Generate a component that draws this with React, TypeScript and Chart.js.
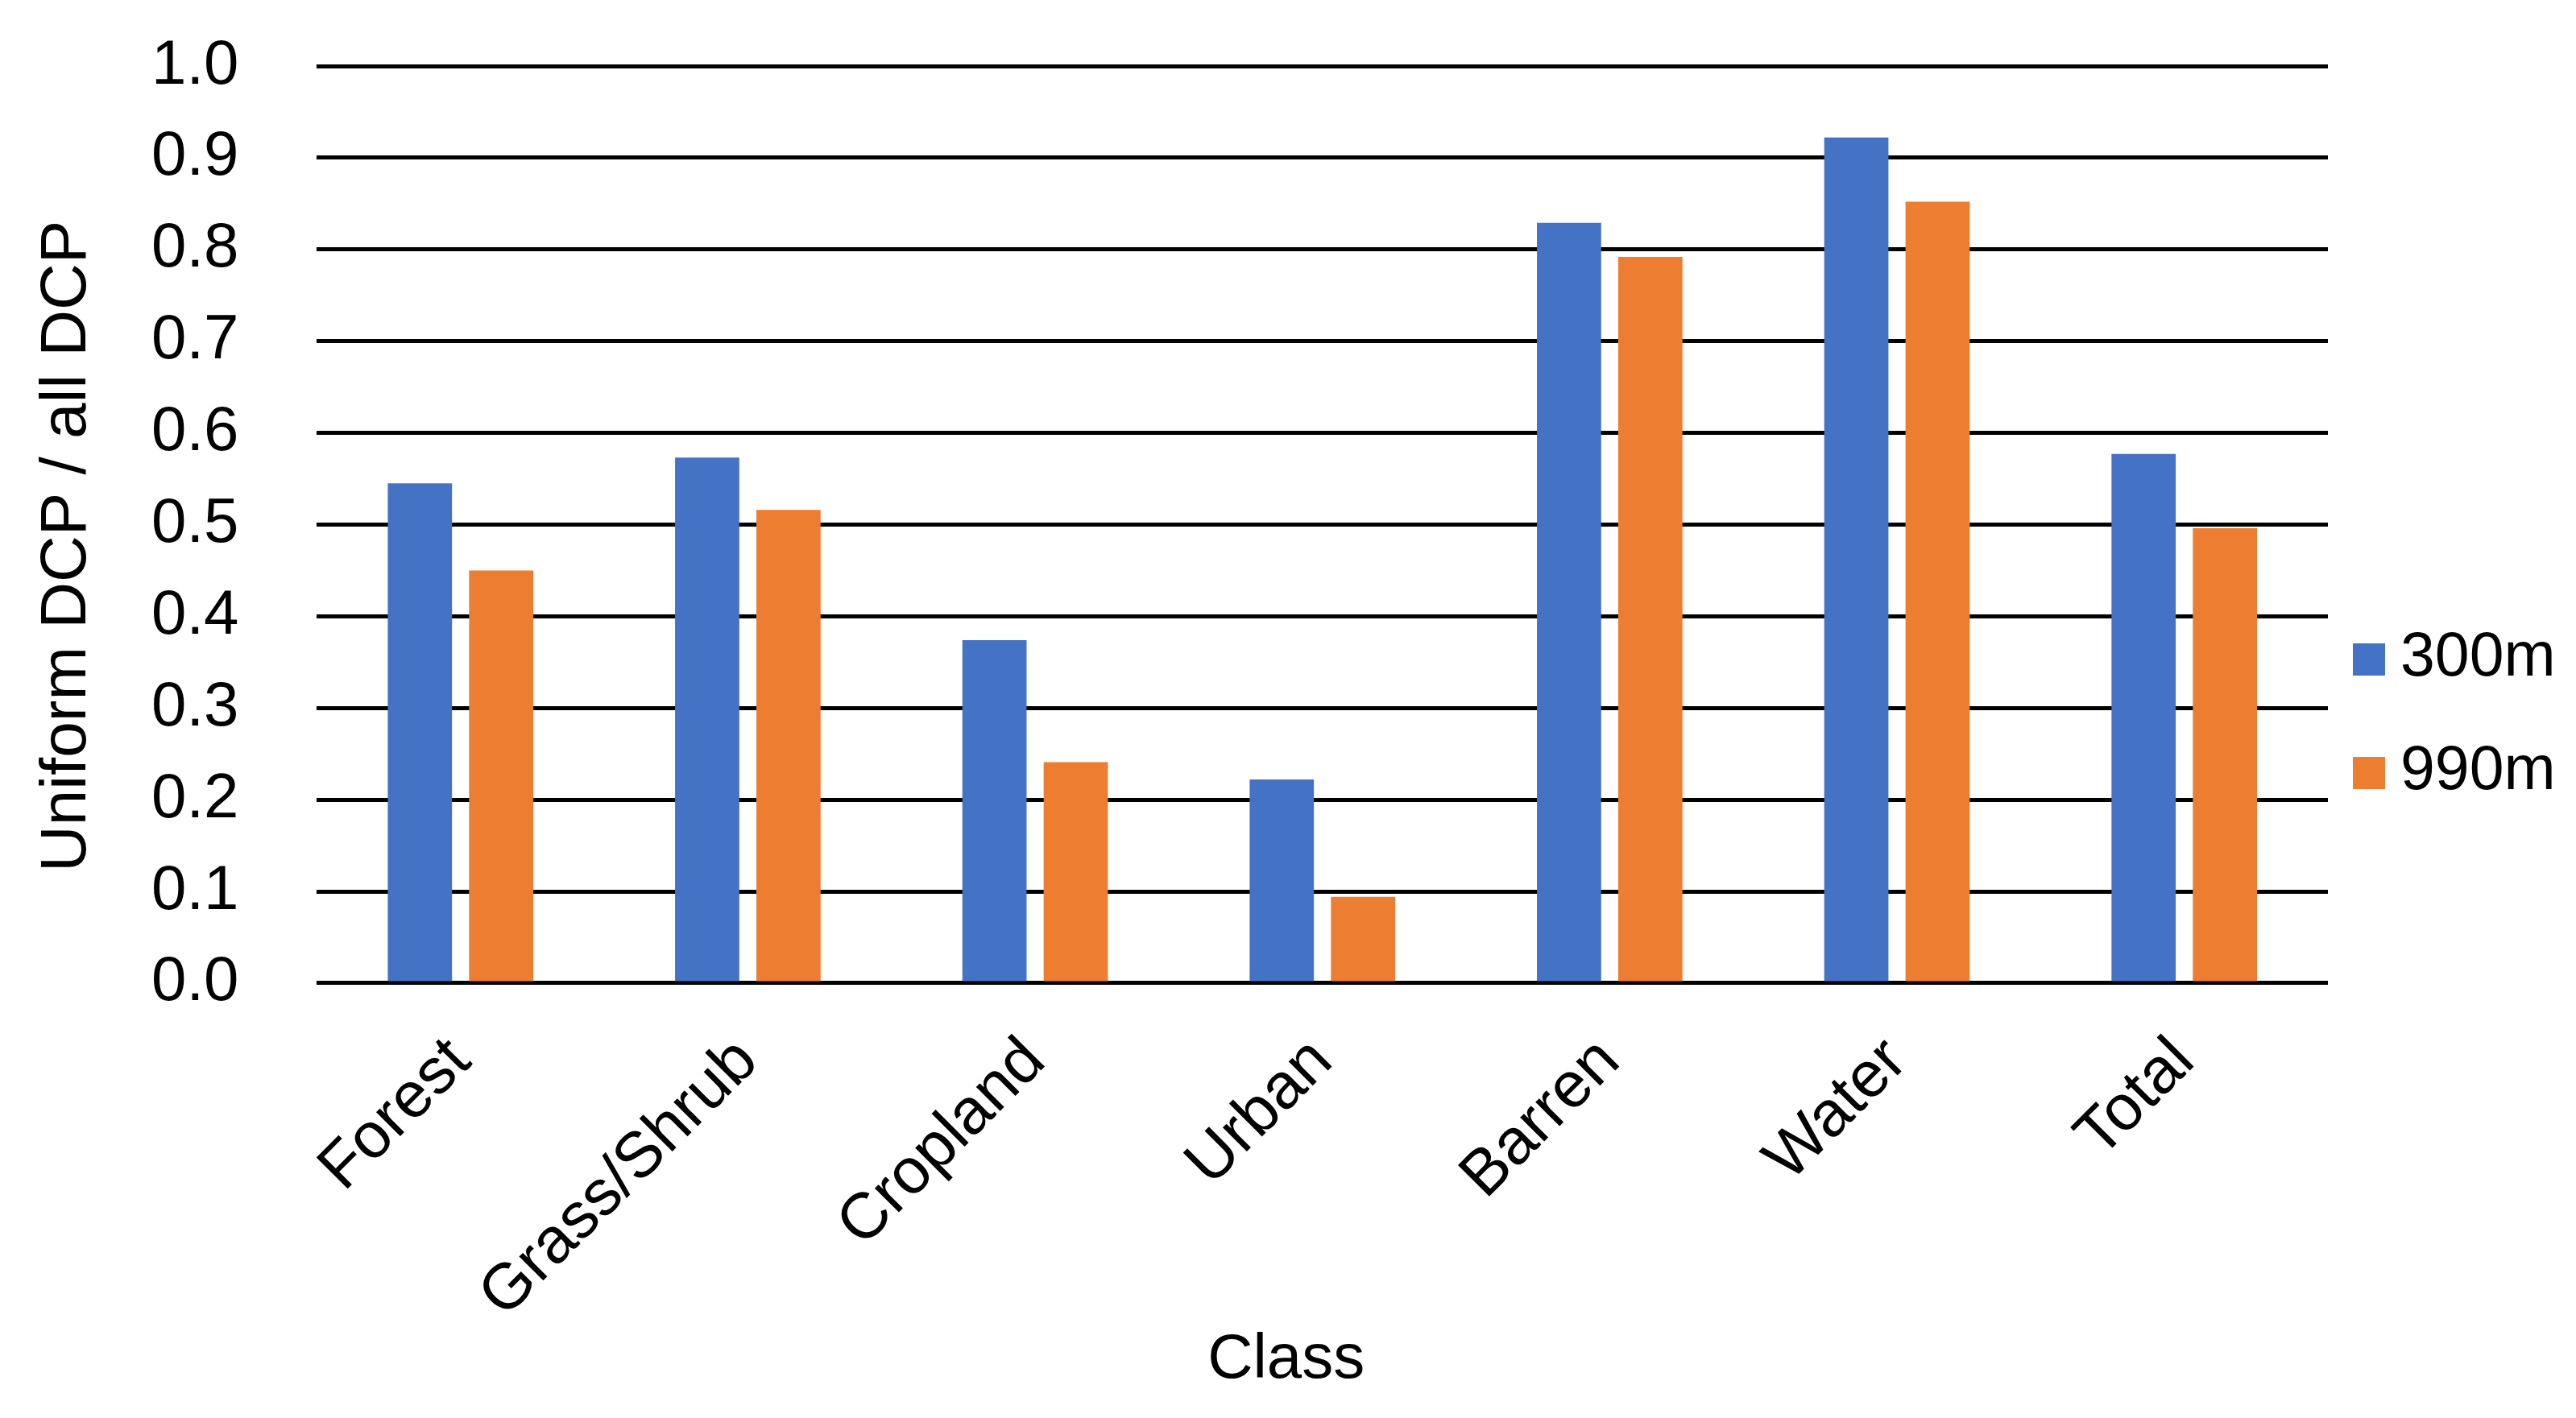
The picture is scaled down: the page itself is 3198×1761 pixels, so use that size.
import React, { useEffect, useRef } from "react";
import { Chart, registerables } from "chart.js";

Chart.register(...registerables);

// ---- Data ----
const categories = ["Forest", "Grass/Shrub", "Cropland", "Urban", "Barren", "Water", "Total"];
const series300m = [0.545, 0.573, 0.374, 0.222, 0.829, 0.922, 0.577];
const series990m = [0.45, 0.516, 0.241, 0.094, 0.792, 0.852, 0.496];
const seriesLabels = ["300m", "990m"];
const seriesColors = ["#4472C4", "#ED7D31"];
const yMin = 0;
const yMax = 1;
const yStep = 0.1;
const yAxisTitle = "Uniform DCP / all DCP";
const xAxisTitle = "Class";

const FONT = "'Liberation Sans', Arial, Helvetica, sans-serif";

const customText = {
  id: "customText",
  afterDraw(chart: any) {
    const { ctx, chartArea } = chart;
    const midY = (chartArea.top + chartArea.bottom) / 2;
    const midX = (chartArea.left + chartArea.right) / 2;
    ctx.save();
    ctx.fillStyle = "#000";
    ctx.textAlign = "center";
    ctx.textBaseline = "middle";
    // y-axis title
    ctx.save();
    ctx.font = `80px ${FONT}`;
    ctx.translate(84, midY + 27);
    ctx.rotate(-Math.PI / 2);
    ctx.fillText(yAxisTitle, 0, 0);
    ctx.restore();
    // x-axis title
    ctx.font = `78px ${FONT}`;
    ctx.fillText(xAxisTitle, midX - 45, chartArea.bottom + 469);
    // legend
    chart.data.datasets.forEach((ds: any, i: number) => {
      const cy = 819 + i * 141;
      ctx.fillStyle = ds.backgroundColor;
      ctx.fillRect(chartArea.right + 31, cy - 20, 40, 40);
      ctx.fillStyle = "#000";
      ctx.textAlign = "left";
      ctx.font = `77px ${FONT}`;
      ctx.fillText(ds.label, chartArea.right + 90, cy - 1);
    });
    ctx.restore();
  },
};

export default function App() {
  const canvasRef = useRef<HTMLCanvasElement | null>(null);

  useEffect(() => {
    if (!canvasRef.current) return;
    const chart = new Chart(canvasRef.current, {
      type: "bar",
      data: {
        labels: categories,
        datasets: [
          {
            label: seriesLabels[0],
            data: series300m,
            backgroundColor: seriesColors[0],
            categoryPercentage: 0.566,
            barPercentage: 0.79,
          },
          {
            label: seriesLabels[1],
            data: series990m,
            backgroundColor: seriesColors[1],
            categoryPercentage: 0.566,
            barPercentage: 0.79,
          },
        ],
      },
      options: {
        responsive: false,
        animation: false,
        devicePixelRatio: 1,
        layout: { padding: { left: 91, right: 308, top: 82, bottom: 62 } },
        plugins: {
          legend: { display: false },
          tooltip: { enabled: false },
          title: { display: false },
        },
        scales: {
          x: {
            grid: { display: false },
            border: { display: false },
            ticks: {
              color: "#000",
              font: { family: FONT, size: 80, lineHeight: 1.0 },
              minRotation: 45,
              maxRotation: 45,
              padding: 48,
              autoSkip: false,
            },
          },
          y: {
            min: yMin,
            max: yMax,
            grid: { color: "#000", lineWidth: 5, drawTicks: false },
            border: { display: false },
            ticks: {
              stepSize: yStep,
              padding: 97,
              color: "#000",
              font: { family: FONT, size: 78 },
              callback: (v: any) => Number(v).toFixed(1),
            },
            afterFit: (scale: any) => {
              scale.paddingTop = 40;
              scale.paddingBottom = 40;
            },
          },
        },
      },
      plugins: [customText],
    });
    return () => chart.destroy();
  }, []);

  return (
    <div style={{ position: "absolute", left: 0, top: 0, width: 3198, height: 1761, background: "#fff" }}>
      <canvas ref={canvasRef} width={3198} height={1761} />
    </div>
  );
}
